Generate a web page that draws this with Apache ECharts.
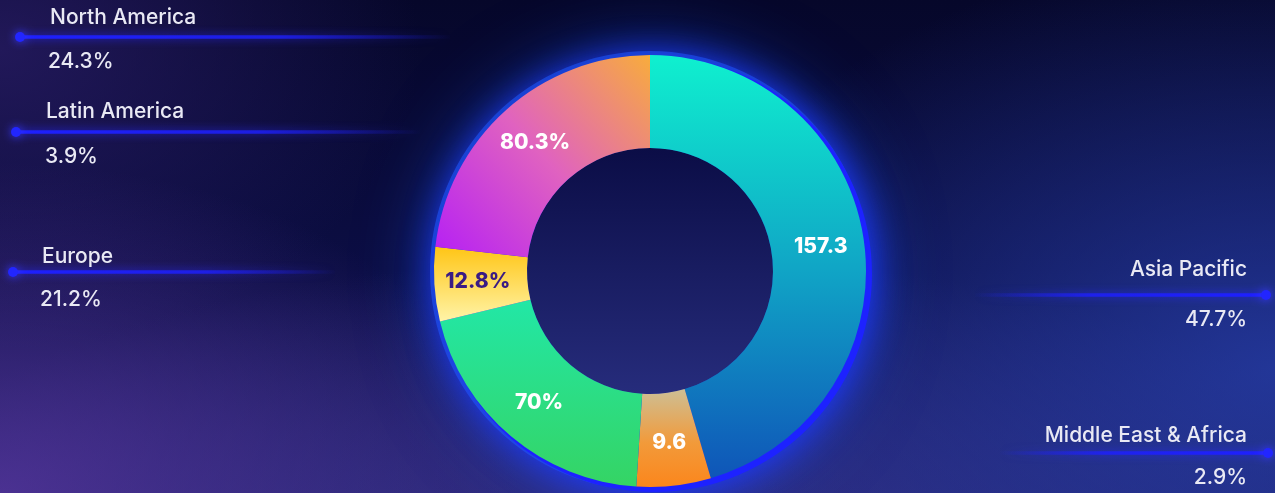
<!DOCTYPE html>
<html><head><meta charset="utf-8">
<script src="https://cdn.jsdelivr.net/npm/echarts@6/dist/echarts.min.js"></script>
<style>
html,body{margin:0;padding:0;width:1275px;height:493px;overflow:hidden;}
body{
 background:
  radial-gradient(ellipse 520px 330px at 0% 100%, rgba(90,55,160,0.75), rgba(90,55,160,0) 100%),
  radial-gradient(ellipse 620px 420px at 100% 75%, rgba(40,65,175,0.75), rgba(40,65,175,0) 100%),
  radial-gradient(ellipse 760px 260px at 50% 105%, rgba(55,50,140,0.8), rgba(55,50,140,0) 100%),
  radial-gradient(ellipse 420px 300px at 0% 10%, rgba(40,28,100,0.8), rgba(40,28,100,0) 100%),
  linear-gradient(180deg, #06072a 0%, #0c0e44 55%, #1a1d62 100%);
}
#c{width:1275px;height:493px;}
</style></head><body><div id="c"></div>
<script>
// ---- data ----
const regions = ['Asia Pacific', 'Middle East & Africa', 'Europe', 'Latin America', 'North America'];
const values = [157.3, 9.6, 70, 12.8, 80.3];
const shares = ['47.7%', '2.9%', '21.2%', '3.9%', '24.3%'];
const sliceLabels = ['157.3', '9.6', '70%', '12.8%', '80.3%'];

// ---- styles / layout ----
const G = echarts.graphic.LinearGradient;
const sliceColors = [
  new G(0, 0, 0, 1, [{offset: 0, color: '#0ff0cf'}, {offset: 0.5, color: '#10a6c6'}, {offset: 1, color: '#0f55b8'}]),
  new G(0, 0, 0, 1, [{offset: 0, color: '#cdbf95'}, {offset: 0.55, color: '#f29a3a'}, {offset: 1, color: '#fb861c'}]),
  new G(0, 0, 0, 1, [{offset: 0, color: '#22e7a6'}, {offset: 1, color: '#35d464'}]),
  new G(0, 0, 0, 1, [{offset: 0, color: '#ffc515'}, {offset: 1, color: '#fff4a8'}]),
  new G(1, 0, 0, 1, [{offset: 0, color: '#f8ac3c'}, {offset: 0.5, color: '#e062c0'}, {offset: 1, color: '#b51ff5'}])
];
const sliceTextColors = ['#ffffff', '#ffffff', '#ffffff', '#3a1b84', '#ffffff'];
const CX = 650, CY = 271, RIN = 123, ROUT = 216;
const DOT = 10;
const slots = [
  {side: 'right', dotX: 1266, lineY: 295, above: 25, below: 25, nameIn: 19, perIn: 19, end: 975},
  {side: 'right', dotX: 1268, lineY: 453, above: 17, below: 25, nameIn: 21, perIn: 21, end: 1000},
  {side: 'left', dotX: 13, lineY: 272, above: 15, below: 28, nameIn: 29, perIn: 27, end: 335},
  {side: 'left', dotX: 16, lineY: 132, above: 20, below: 25, nameIn: 30, perIn: 29, end: 420},
  {side: 'left', dotX: 20, lineY: 37, above: 19, below: 25, nameIn: 30, perIn: 28, end: 450}
];
const FONT = 'Inter, "Open Sans", sans-serif';
const TXT = 21;

const total = values.reduce((a, b) => a + b, 0);

const mainData = regions.map((name, i) => ({
  name, value: values[i],
  itemStyle: {color: sliceColors[i]},
  label: {color: sliceTextColors[i]}
}));

const labelData = regions.map((name, i) => {
  const s = slots[i];
  const left = s.side === 'left';
  const al = left ? 'left' : 'right';
  const pad = (n) => left ? [0, 0, 0, n + DOT / 2] : [0, n + DOT / 2, 0, 0];
  return {
    name, value: values[i],
    label: {
      rich: {
        name: {fontSize: TXT, fontWeight: 500, color: '#e9e9f4', fontFamily: FONT, align: al,
               lineHeight: 2 * s.above - DOT, padding: pad(s.nameIn)},
        dot: {width: DOT, height: DOT, lineHeight: DOT, borderRadius: DOT / 2, align: al,
              backgroundColor: '#2226ff', shadowBlur: 10, shadowColor: '#3a3aff'},
        per: {fontSize: TXT, fontWeight: 500, color: '#e9e9f4', fontFamily: FONT, align: al,
              lineHeight: 2 * s.below - DOT, padding: pad(s.perIn)}
      }
    },
    labelLine: {
      lineStyle: {
        color: left
          ? new G(0, 0, 1, 0, [{offset: 0, color: 'rgba(30,32,255,1)'}, {offset: 0.6, color: 'rgba(30,32,255,0.8)'}, {offset: 1, color: 'rgba(30,32,255,0)'}])
          : new G(0, 0, 1, 0, [{offset: 0, color: 'rgba(30,32,255,0)'}, {offset: 0.4, color: 'rgba(30,32,255,0.8)'}, {offset: 1, color: 'rgba(30,32,255,1)'}])
      }
    }
  };
});

const chart = echarts.init(document.getElementById('c'), null, {renderer: 'canvas'});
chart.setOption({
  backgroundColor: 'transparent',
  animation: false,
  series: [
    { // outer soft halo
      type: 'pie', silent: true, z: 0,
      center: [CX, CY], radius: [RIN + 10, ROUT + 4],
      label: {show: false}, labelLine: {show: false},
      itemStyle: {color: 'rgba(35,110,255,0.55)', shadowBlur: 70, shadowColor: 'rgba(25,90,255,1)'},
      data: [{value: total}]
    },
    { // glow / rim behind the donut
      type: 'pie', silent: true, z: 1,
      center: [CX + 4, CY + 3], radius: [RIN + 5, ROUT + 2],
      label: {show: false}, labelLine: {show: false},
      itemStyle: {color: '#1d22ff', shadowBlur: 35, shadowColor: 'rgba(30,55,255,1)'},
      data: [{value: total}]
    },
    { // hole
      type: 'pie', silent: true, z: 1,
      center: [CX, CY], radius: [0, RIN],
      label: {show: false}, labelLine: {show: false},
      itemStyle: {color: new G(0, 0, 0, 1, [{offset: 0, color: '#0b0d46'}, {offset: 1, color: '#262c7c'}])},
      data: [{value: total}]
    },
    { // main donut
      type: 'pie', z: 3,
      center: [CX, CY], radius: [RIN, ROUT],
      startAngle: 90, clockwise: true, minAngle: 20,
      avoidLabelOverlap: false,
      label: {
        show: true, position: 'inside',
        formatter: (p) => sliceLabels[p.dataIndex],
        fontFamily: FONT, fontWeight: 800, fontSize: 21
      },
      labelLine: {show: false},
      data: mainData
    },
    { // outer name labels with lines
      type: 'pie', z: 2, silent: true,
      center: [CX, CY], radius: [RIN, ROUT],
      startAngle: 90, clockwise: true, minAngle: 20,
      avoidLabelOverlap: false,
      itemStyle: {color: 'rgba(0,0,0,0)'},
      label: {
        show: true, position: 'outside',
        formatter: (p) => '{name|' + regions[p.dataIndex] + '}\n{dot|}\n{per|' + shares[p.dataIndex] + '}'
      },
      labelLine: {show: true, length: 10, length2: 10,
        lineStyle: {width: 3.5, shadowBlur: 8, shadowColor: 'rgba(40,40,255,0.9)'}},
      labelLayout: function (p) {
        const s = slots[p.dataIndex];
        const left = s.side === 'left';
        return {
          x: left ? s.dotX - DOT / 2 : s.dotX + DOT / 2,
          y: s.lineY - 2 * s.above + DOT / 2,
          align: left ? 'left' : 'right',
          verticalAlign: 'top',
          labelLinePoints: [[s.dotX, s.lineY], [(s.dotX + s.end) / 2, s.lineY], [s.end, s.lineY]]
        };
      },
      data: labelData
    }
  ]
});
</script>
</body></html>
